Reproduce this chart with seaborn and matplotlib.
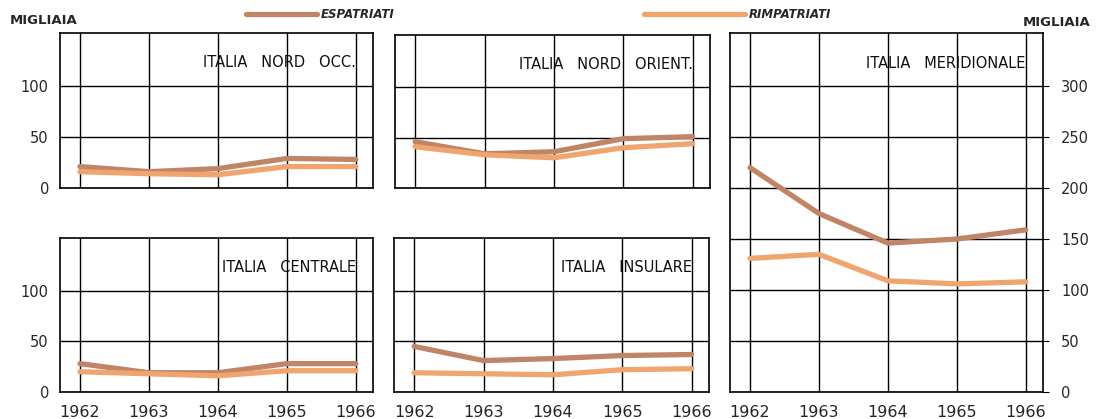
import numpy as np
import pandas as pd
import seaborn as sns
from matplotlib import pyplot as plt
from matplotlib.lines import Line2D

# anni e valori (migliaia)
years = [1962, 1963, 1964, 1965, 1966]

nord_occ_esp = [21, 16, 19, 29, 28]
nord_occ_rim = [16, 14, 13, 21, 21]

nord_or_esp = [46, 34, 36, 49, 51]
nord_or_rim = [41, 33, 30, 40, 44]

centrale_esp = [28, 19, 19, 28, 28]
centrale_rim = [20, 18, 16, 21, 21]

insulare_esp = [45, 31, 33, 36, 37]
insulare_rim = [19, 18, 17, 22, 23]

merid_esp = [220, 175, 146, 150, 159]
merid_rim = [131, 135, 109, 106, 108]

series_names = ['ESPATRIATI', 'RIMPATRIATI']
palette = {'ESPATRIATI': '#c08466', 'RIMPATRIATI': '#f0a46e'}

panels = [
    ('ITALIA   NORD   OCC.', nord_occ_esp, nord_occ_rim),
    ('ITALIA   NORD   ORIENT.', nord_or_esp, nord_or_rim),
    ('ITALIA   CENTRALE', centrale_esp, centrale_rim),
    ('ITALIA   INSULARE', insulare_esp, insulare_rim),
    ('ITALIA   MERIDIONALE', merid_esp, merid_rim),
]

def make_df(esp, rim):
    return pd.DataFrame({
        'anno': years * 2,
        'valore': esp + rim,
        'serie': [series_names[0]] * 5 + [series_names[1]] * 5,
    })

sns.set_style('white')
plt.rcParams['font.family'] = ['DejaVu Sans']

fig = plt.figure(figsize=(10.96, 4.19), dpi=100)
W, H = 1096, 419

# posizioni dei pannelli in pixel (x0, x1, ytop, ybottom)
boxes = [
    (60, 373, 33, 188),
    (395, 710, 35, 188),
    (60, 373, 238, 392),
    (394, 709, 238, 392),
    (730, 1043, 33, 392),
]

for i, ((title, esp, rim), (x0, x1, yt, yb)) in enumerate(zip(panels, boxes)):
    ax = fig.add_axes([x0 / W, (H - yb) / H, (x1 - x0) / W, (yb - yt) / H])
    df = make_df(esp, rim)
    sns.lineplot(data=df, x='anno', y='valore', hue='serie', palette=palette,
                 linewidth=3.8, legend=False, ax=ax, zorder=3)
    ax.set_xlim(1961.71, 1966.25)
    big = (i == 4)
    if big:
        ax.set_ylim(0, 352)
        ax.set_yticks(range(0, 301, 50))
    else:
        ax.set_ylim(0, 152)
        ax.set_yticks([0, 50, 100])
    ax.set_xticks(years)
    ax.grid(True, color='black', linewidth=1.0)
    ax.set_axisbelow(True)
    for sp in ax.spines.values():
        sp.set_color('black')
        sp.set_linewidth(1.2)
    ax.set_xlabel('')
    ax.set_ylabel('')
    ax.tick_params(axis='both', which='both', direction='out', length=4,
                   color='black', labelsize=10.5, pad=4)
    ax.tick_params(axis='x', labelsize=11.5, pad=5)
    if i in (2, 3, 4):
        ax.set_xticklabels([str(y) for y in years])
    else:
        ax.set_xticklabels([])
    if big:
        ax.yaxis.tick_right()
        ax.tick_params(axis='y', pad=9)
    elif i in (0, 2):
        ax.set_yticklabels(['0', '50', '100'])
    else:
        ax.set_yticklabels([])
    ty = 0.915 if big else 0.81
    ax.text(0.945, ty, title, transform=ax.transAxes, ha='right', va='center',
            fontsize=10.5, color='#111111')

fig.text(10 / W, 1 - 20 / H, 'MIGLIAIA', fontsize=9.5, fontweight='bold',
         va='center', ha='left')
fig.text(1090 / W, 1 - 22 / H, 'MIGLIAIA', fontsize=9.5, fontweight='bold',
         va='center', ha='right')

h1 = Line2D([], [], color=palette['ESPATRIATI'], linewidth=3.8)
h2 = Line2D([], [], color=palette['RIMPATRIATI'], linewidth=3.8)
leg1 = fig.legend(handles=[h1], labels=['ESPATRIATI'], loc='center left',
                  bbox_to_anchor=(240 / W, 1 - 15 / H), frameon=False,
                  handlelength=6.0, handletextpad=0.3, borderpad=0,
                  prop={'style': 'italic', 'weight': 'bold', 'size': 8.5})
leg2 = fig.legend(handles=[h2], labels=['RIMPATRIATI'], loc='center left',
                  bbox_to_anchor=(638 / W, 1 - 15 / H), frameon=False,
                  handlelength=8.6, handletextpad=0.3, borderpad=0,
                  prop={'style': 'italic', 'weight': 'bold', 'size': 8.5})

plt.savefig('out.png', dpi=100)
